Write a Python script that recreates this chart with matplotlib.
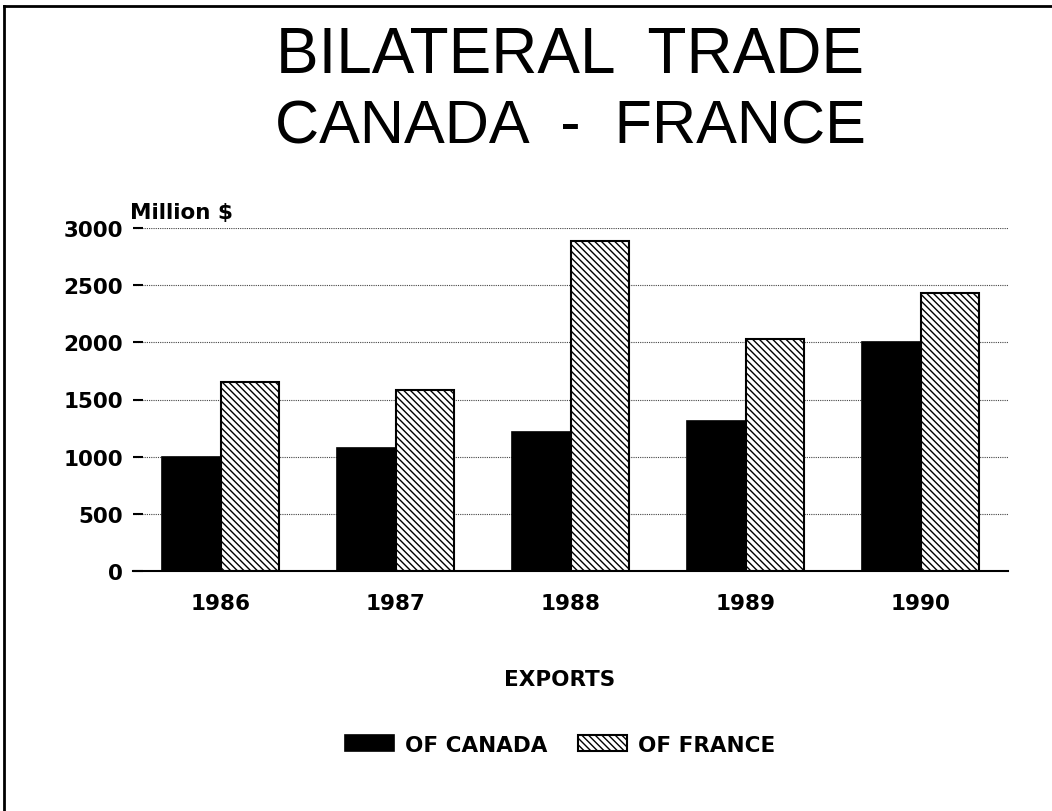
import matplotlib
matplotlib.use('Agg')
import matplotlib.pyplot as plt
import numpy as np
from matplotlib.lines import Line2D

years = ['1986', '1987', '1988', '1989', '1990']
exports_canada = [1000, 1075, 1220, 1315, 2000]
exports_france = [1650, 1580, 2890, 2025, 2430]
yticks = [0, 500, 1000, 1500, 2000, 2500, 3000]

plt.rcParams['hatch.linewidth'] = 1.0
plt.rcParams['font.family'] = 'DejaVu Sans'

W, H = 1052, 812
fig = plt.figure(figsize=(W / 100, H / 100), dpi=100)
ax = fig.add_axes([133 / W, 1 - 572 / H, (1008 - 133) / W, (572 - 229) / H])

x = np.arange(len(years))
w = 0.333
ax.bar(x - w / 2, exports_canada, w, color='black', edgecolor='black',
       linewidth=1.2, label='OF CANADA', zorder=2)
ax.bar(x + w / 2, exports_france, w, color='white', edgecolor='black',
       linewidth=1.5, hatch='\\\\\\\\\\', label='OF FRANCE', zorder=2)

ax.set_xlim(-0.5, 4.5)
ax.set_ylim(0, 3000)
ax.set_yticks(yticks)
ax.set_xticks(x)
ax.set_xticklabels(years)
for s in ['left', 'top', 'right']:
    ax.spines[s].set_visible(False)
ax.spines['bottom'].set_linewidth(1.5)
ax.spines['bottom'].set_zorder(3)

ax.yaxis.grid(True, color='#444444', linestyle=(0, (1, 1)), linewidth=0.8)
ax.set_axisbelow(True)
ax.tick_params(axis='y', direction='in', length=7, width=1.5, pad=7,
               labelsize=15.5)
ax.tick_params(axis='x', length=0, pad=16, labelsize=15.5)
for lab in ax.get_xticklabels() + ax.get_yticklabels():
    lab.set_fontweight('bold')

fig.text(130 / W, 1 - 213 / H, 'Million $', ha='left', va='center',
         fontsize=15.5, fontweight='bold')

fig.text(570 / W, 1 - 56 / H, 'BILATERAL  TRADE', ha='center', va='center',
         fontsize=46, family='Liberation Sans')
fig.text(570 / W, 1 - 128 / H, 'CANADA  -  FRANCE', ha='center', va='center',
         fontsize=44, family='Liberation Sans')

leg = fig.legend(loc='center', bbox_to_anchor=(560 / W, 1 - 713 / H), ncol=2,
                 frameon=False, title='EXPORTS', fontsize=15.5,
                 title_fontproperties={'size': 15.5, 'weight': 'bold'},
                 handlelength=2.3, handleheight=0.8, handletextpad=0.5,
                 columnspacing=1.4, labelspacing=2.1)
for t in leg.get_texts():
    t.set_fontweight('bold')

# scan frame (top and left edges)
fig.add_artist(Line2D([4 / W, 1], [1 - 7 / H, 1 - 7 / H], color='black', linewidth=2))
fig.add_artist(Line2D([4 / W, 4 / W], [0, 1 - 7 / H], color='black', linewidth=2))

fig.savefig('out.png', dpi=100)
